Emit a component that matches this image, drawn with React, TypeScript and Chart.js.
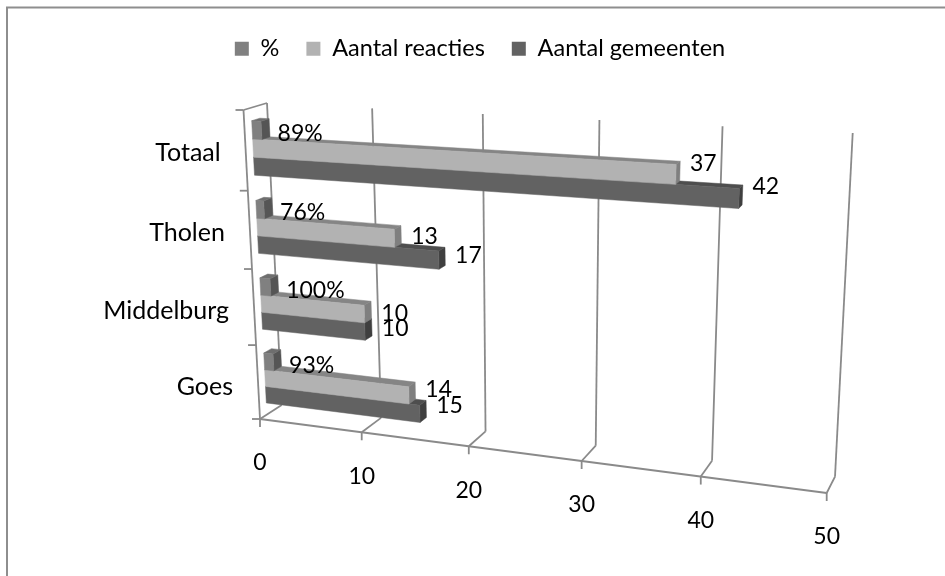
import React, { useEffect, useRef } from "react";
import { Chart, registerables } from "chart.js";

Chart.register(...registerables);

const categories = ["Totaal", "Tholen", "Middelburg", "Goes"];
const percentShare = [0.89, 0.76, 1, 0.93];
const reactionCount = [37, 13, 10, 14];
const municipalityCount = [42, 17, 10, 15];
const axisTicks = { min: 0, max: 50, step: 10 };

type Pt = [number, number];
const FONT = "Lato, Carlito, Calibri, sans-serif";
const GRID = "#8a8a8a";
const FACES = [
  { front: "#808080", top: "#6e6e6e", side: "#555555" },
  { front: "#b2b2b2", top: "#858585", side: "#7f7f7f" },
  { front: "#626262", top: "#4e4e4e", side: "#3f3f3f" },
];

// Projection corners of the tilted 3D box: front/back, bottom/top, left/right
const A0: Pt = [260, 419], A1: Pt = [826.7, 493];
const B0: Pt = [281.7, 405], B1: Pt = [835, 476.7];
const C0: Pt = [267, 103], C1: Pt = [852.7, 133];
const D0: Pt = [243.5, 110], D1: Pt = [846, 142];
const DEPTH0 = 0.32, DEPTH1 = 0.67;
// Small vertical label shifts per category, per count series
const LABEL_SHIFT = [[0, 0], [2, 0], [2, 0], [-2, -4]];

const lerp = (a: Pt, b: Pt, t: number): Pt => [a[0] + (b[0] - a[0]) * t, a[1] + (b[1] - a[1]) * t];
const persp = (t: number, k: number) => (k * t) / (1 - (1 - k) * t);

function project(tx: number, th: number, d: number): Pt {
  const u = persp(tx, 0.875);
  const h = persp(th, 0.943);
  const front = lerp(lerp(A0, A1, u), lerp(D0, D1, u), h);
  const back = lerp(lerp(B0, B1, u), lerp(C0, C1, u), h);
  return lerp(front, back, d);
}

function poly(ctx: CanvasRenderingContext2D, pts: Pt[], color: string) {
  ctx.beginPath();
  pts.forEach((p, i) => (i ? ctx.lineTo(p[0], p[1]) : ctx.moveTo(p[0], p[1])));
  ctx.closePath();
  ctx.fillStyle = color;
  ctx.strokeStyle = color;
  ctx.lineWidth = 0.5;
  ctx.fill();
  ctx.stroke();
}

function seg(ctx: CanvasRenderingContext2D, a: Pt, b: Pt) {
  ctx.beginPath();
  ctx.moveTo(a[0], a[1]);
  ctx.lineTo(b[0], b[1]);
  ctx.stroke();
}

const normX = (c: any, px: number) => (px - c.chartArea.left) / c.chartArea.width;
const normY = (c: any, px: number) => (c.chartArea.bottom - px) / c.chartArea.height;

const perspectivePlugin = {
  id: "perspective3d",
  beforeDatasetDraw: () => false,
  beforeDatasetsDraw(chart: any) {
    const { ctx } = chart;
    const xs = chart.scales.x;
    const ys = chart.scales.y;
    ctx.save();
    // chart frame: only the top and left edges fall inside the picture
    ctx.strokeStyle = "#8e8e8e";
    ctx.lineWidth = 2;
    ctx.beginPath();
    ctx.moveTo(7, 576);
    ctx.lineTo(7, 7.5);
    ctx.lineTo(945, 7.5);
    ctx.stroke();
    // walls and floor
    ctx.strokeStyle = GRID;
    ctx.lineWidth = 1.8;
    xs.ticks.forEach((tick: any) => {
      const t = normX(chart, xs.getPixelForValue(tick.value));
      const front = project(t, 0, 0);
      seg(ctx, front, project(t, 0, 1));
      seg(ctx, project(t, 0, 1), project(t, 1, 1));
      seg(ctx, front, [front[0], front[1] + 8]);
    });
    seg(ctx, project(0, 0, 0), project(1, 0, 0));
    seg(ctx, project(0, 0, 0), project(0, 1, 0));
    seg(ctx, project(0, 1, 0), project(0, 1, 1));
    const n = ys.getLabels().length;
    for (let i = 0; i <= n; i++) {
      const p = project(0, i / n, 0);
      seg(ctx, p, [p[0] - 8, p[1]]);
    }
    ctx.restore();
  },
  afterDatasetsDraw(chart: any) {
    const { ctx } = chart;
    const order = chart.data.datasets.map((_: any, i: number) => i).reverse();
    const count = chart.data.labels.length;
    ctx.save();
    for (let j = 0; j < count; j++) {
      order.forEach((di: number) => {
        const bar = chart.getDatasetMeta(di).data[j];
        const t0 = normX(chart, bar.base);
        const t1 = normX(chart, bar.x);
        const hb = normY(chart, bar.y + bar.height / 2);
        const ht = normY(chart, bar.y - bar.height / 2);
        const f = FACES[di];
        poly(ctx, [project(t1, hb, DEPTH0), project(t1, hb, DEPTH1), project(t1, ht, DEPTH1), project(t1, ht, DEPTH0)], f.side);
        poly(ctx, [project(t0, ht, DEPTH0), project(t1, ht, DEPTH0), project(t1, ht, DEPTH1), project(t0, ht, DEPTH1)], f.top);
        poly(ctx, [project(t0, hb, DEPTH0), project(t1, hb, DEPTH0), project(t1, ht, DEPTH0), project(t0, ht, DEPTH0)], f.front);
      });
    }
    // data labels
    ctx.fillStyle = "#000";
    ctx.font = `23px ${FONT}`;
    ctx.textBaseline = "middle";
    ctx.textAlign = "left";
    for (let j = 0; j < count; j++) {
      chart.data.datasets.forEach((ds: any, di: number) => {
        const bar = chart.getDatasetMeta(di).data[j];
        const v = ds.data[j];
        const t1 = normX(chart, bar.x);
        const hMid = normY(chart, bar.y);
        const sideX = project(t1, hMid, DEPTH1)[0];
        const midY = project(t1, hMid, DEPTH0)[1];
        if (di === 0) {
          ctx.fillText(`${Math.round(v * 100)}%`, sideX + 8, midY + 3);
        } else {
          ctx.fillText(String(v), sideX + 10, midY - 0.28 * v + LABEL_SHIFT[j][di - 1]);
        }
      });
    }
    // axis labels
    const xs = chart.scales.x;
    const ys = chart.scales.y;
    ctx.textAlign = "center";
    xs.ticks.forEach((tick: any) => {
      const p = project(normX(chart, xs.getPixelForValue(tick.value)), 0, 0);
      ctx.fillText(tick.label, p[0], p[1] + 44);
    });
    ctx.font = `25px ${FONT}`;
    ctx.textAlign = "right";
    ys.getLabels().forEach((label: string, i: number) => {
      const p = project(0, normY(chart, ys.getPixelForTick(i)), 0);
      ctx.fillText(label, p[0] - 25, p[1] + 2 + i);
    });
    ctx.restore();
  },
};

export default function App() {
  const ref = useRef<HTMLCanvasElement>(null);
  useEffect(() => {
    const chart = new Chart(ref.current!, {
      type: "bar",
      data: {
        labels: categories,
        datasets: [
          { label: "%", data: percentShare, backgroundColor: FACES[0].front },
          { label: "Aantal reacties", data: reactionCount, backgroundColor: FACES[1].front },
          { label: "Aantal gemeenten", data: municipalityCount, backgroundColor: FACES[2].front },
        ],
      },
      options: {
        indexAxis: "y",
        animation: false,
        responsive: false,
        layout: { padding: { left: 15, top: 10 } },
        datasets: { bar: { categoryPercentage: 0.68, barPercentage: 1 } },
        scales: {
          x: { display: false, min: axisTicks.min, max: axisTicks.max, ticks: { stepSize: axisTicks.step } },
          y: { display: false },
        },
        plugins: {
          tooltip: { enabled: false },
          legend: {
            position: "top",
            labels: {
              boxWidth: 14,
              boxHeight: 14,
              padding: 27,
              color: "#000",
              font: { family: FONT, size: 23.5 },
            },
          },
        },
      },
      plugins: [perspectivePlugin],
    } as any);
    return () => chart.destroy();
  }, []);
  return (
    <canvas
      ref={ref}
      width={945}
      height={576}
      style={{ position: "fixed", left: 0, top: 0, background: "#fff" }}
    />
  );
}
